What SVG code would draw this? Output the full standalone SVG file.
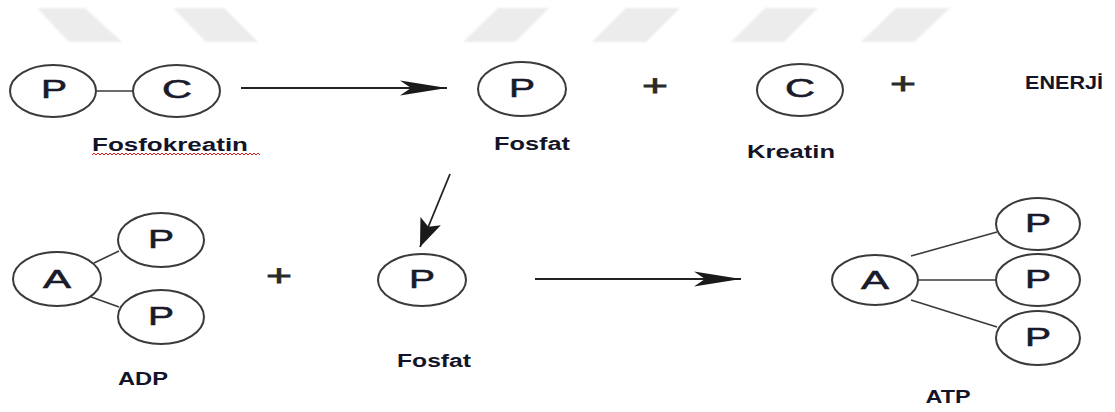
<svg xmlns="http://www.w3.org/2000/svg" width="1115" height="412" viewBox="0 0 1115 412">
<style>
.wm{fill:#ececec;filter:url(#soft)}
.mol{fill:#fff;stroke:#3a3a3a;stroke-width:2}
.bond{stroke:#3a3a3a;stroke-width:1.6;fill:none}
.arr{stroke:#222;stroke-width:1.8;fill:none}
.sym{font-family:"Liberation Sans",Arial,sans-serif;font-size:26px;fill:#1a1a2a;stroke:#1a1a2a;stroke-width:0.6;text-anchor:middle}
.lbl{font-family:"Liberation Sans",Arial,sans-serif;font-size:18px;font-weight:bold;fill:#141428;text-anchor:middle}
.plus{font-family:"Liberation Sans",Arial,sans-serif;font-size:30px;fill:#2a2a2a;stroke:#2a2a2a;stroke-width:0.8;text-anchor:middle}
</style>
<defs>
<filter id="soft" x="-10%" y="-10%" width="120%" height="120%"><feGaussianBlur stdDeviation="0.8"/></filter>
<marker id="headL" markerUnits="userSpaceOnUse" markerWidth="50" markerHeight="18" refX="47" refY="8" orient="auto" overflow="visible">
<path d="M0,0.5 L47,8 L0,15.5 L11,8 Z" fill="#1a1a1a"/>
</marker>
<marker id="headS" markerUnits="userSpaceOnUse" markerWidth="30" markerHeight="24" refX="28" refY="11" orient="auto" overflow="visible">
<path d="M0,0 L28,11 L0,22 L6,11 Z" fill="#1a1a1a"/>
</marker>
</defs>
<rect width="1115" height="412" fill="#fff"/>
<g id="watermark">
<polygon class="wm" points="37,8 85,8 122,42 69,42"/>
<polygon class="wm" points="173,8 224,8 258,42 206,42"/>
<polygon class="wm" points="498,8 549,8 515,42 463,42"/>
<polygon class="wm" points="626,8 680,8 646,42 592,42"/>
<polygon class="wm" points="765,8 818,8 784,42 731,42"/>
<polygon class="wm" points="896,8 950,8 914,42 861,42"/>
</g>
<g id="connectors">
<line class="bond" x1="97" y1="91" x2="133" y2="91"/>
<line class="bond" x1="94" y1="263" x2="119" y2="251"/>
<line class="bond" x1="83" y1="294" x2="119" y2="307"/>
<line class="bond" x1="911" y1="256" x2="997" y2="232"/>
<line class="bond" x1="918" y1="280" x2="996" y2="280"/>
<line class="bond" x1="911" y1="300" x2="997" y2="327"/>
<line class="arr" x1="241" y1="88" x2="447" y2="88" marker-end="url(#headL)"/>
<line class="arr" x1="535" y1="279" x2="741" y2="279" marker-end="url(#headL)"/>
<line class="arr" x1="450" y1="174" x2="420" y2="247" marker-end="url(#headS)"/>
</g>
<g id="fosfokreatin">
<ellipse class="mol" cx="53" cy="91" rx="43" ry="26"/>
<text class="sym" x="54" y="98" textLength="26" lengthAdjust="spacingAndGlyphs">P</text>
<ellipse class="mol" cx="176.5" cy="91" rx="43.5" ry="26"/>
<text class="sym" x="177" y="98" textLength="30" lengthAdjust="spacingAndGlyphs">C</text>
<text class="lbl" x="170" y="151" textLength="156" lengthAdjust="spacingAndGlyphs">Fosfokreatin</text>
<path d="M92,155 l2,-2 l2,2 l2,-2 l2,2 l2,-2 l2,2 l2,-2 l2,2 l2,-2 l2,2 l2,-2 l2,2 l2,-2 l2,2 l2,-2 l2,2 l2,-2 l2,2 l2,-2 l2,2 l2,-2 l2,2 l2,-2 l2,2 l2,-2 l2,2 l2,-2 l2,2 l2,-2 l2,2 l2,-2 l2,2 l2,-2 l2,2 l2,-2 l2,2 l2,-2 l2,2 l2,-2 l2,2 l2,-2 l2,2 l2,-2 l2,2 l2,-2 l2,2 l2,-2 l2,2 l2,-2 l2,2 l2,-2 l2,2 l2,-2 l2,2 l2,-2 l2,2 l2,-2 l2,2 l2,-2 l2,2 l2,-2 l2,2 l2,-2 l2,2 l2,-2 l2,2 l2,-2 l2,2 l2,-2 l2,2 l2,-2 l2,2 l2,-2 l2,2 l2,-2 l2,2 l2,-2 l2,2 l2,-2 l2,2 l2,-2 l2,2 l2,-2 l2,2" fill="none" stroke="#e02020" stroke-width="1"/>
</g>
<g id="fosfat1">
<ellipse class="mol" cx="522" cy="89" rx="44" ry="27"/>
<text class="sym" x="522" y="97" textLength="26" lengthAdjust="spacingAndGlyphs">P</text>
<text class="lbl" x="532" y="150" textLength="76" lengthAdjust="spacingAndGlyphs">Fosfat</text>
</g>
<g id="plus1"><text class="plus" x="655" y="96" textLength="26" lengthAdjust="spacingAndGlyphs">+</text></g>
<g id="kreatin">
<ellipse class="mol" cx="800" cy="90" rx="43" ry="26"/>
<text class="sym" x="800" y="97" textLength="30" lengthAdjust="spacingAndGlyphs">C</text>
<text class="lbl" x="791" y="158" textLength="88" lengthAdjust="spacingAndGlyphs">Kreatin</text>
</g>
<g id="plus2"><text class="plus" x="903" y="94" textLength="26" lengthAdjust="spacingAndGlyphs">+</text></g>
<g id="enerji"><text class="lbl" x="1064" y="89" textLength="78" lengthAdjust="spacingAndGlyphs">ENERJİ</text></g>
<g id="adp">
<ellipse class="mol" cx="57" cy="279" rx="44" ry="27"/>
<text class="sym" x="57" y="288" textLength="28" lengthAdjust="spacingAndGlyphs">A</text>
<ellipse class="mol" cx="161" cy="240" rx="43" ry="27"/>
<text class="sym" x="161" y="248" textLength="26" lengthAdjust="spacingAndGlyphs">P</text>
<ellipse class="mol" cx="161" cy="317" rx="43" ry="27"/>
<text class="sym" x="161" y="325" textLength="26" lengthAdjust="spacingAndGlyphs">P</text>
<text class="lbl" x="143" y="385" textLength="50" lengthAdjust="spacingAndGlyphs">ADP</text>
</g>
<g id="plus3"><text class="plus" x="279" y="286" textLength="26" lengthAdjust="spacingAndGlyphs">+</text></g>
<g id="fosfat2">
<ellipse class="mol" cx="422" cy="280" rx="44" ry="26"/>
<text class="sym" x="422" y="288" textLength="26" lengthAdjust="spacingAndGlyphs">P</text>
<text class="lbl" x="434" y="367" textLength="74" lengthAdjust="spacingAndGlyphs">Fosfat</text>
</g>
<g id="atp">
<ellipse class="mol" cx="875" cy="280" rx="43" ry="25"/>
<text class="sym" x="875" y="289" textLength="28" lengthAdjust="spacingAndGlyphs">A</text>
<ellipse class="mol" cx="1038" cy="224" rx="42" ry="26"/>
<text class="sym" x="1038" y="232" textLength="26" lengthAdjust="spacingAndGlyphs">P</text>
<ellipse class="mol" cx="1038" cy="280" rx="42" ry="26"/>
<text class="sym" x="1038" y="288" textLength="26" lengthAdjust="spacingAndGlyphs">P</text>
<ellipse class="mol" cx="1038" cy="338" rx="42" ry="27"/>
<text class="sym" x="1038" y="346" textLength="26" lengthAdjust="spacingAndGlyphs">P</text>
<text class="lbl" x="948" y="403" textLength="45" lengthAdjust="spacingAndGlyphs">ATP</text>
</g>
</svg>
